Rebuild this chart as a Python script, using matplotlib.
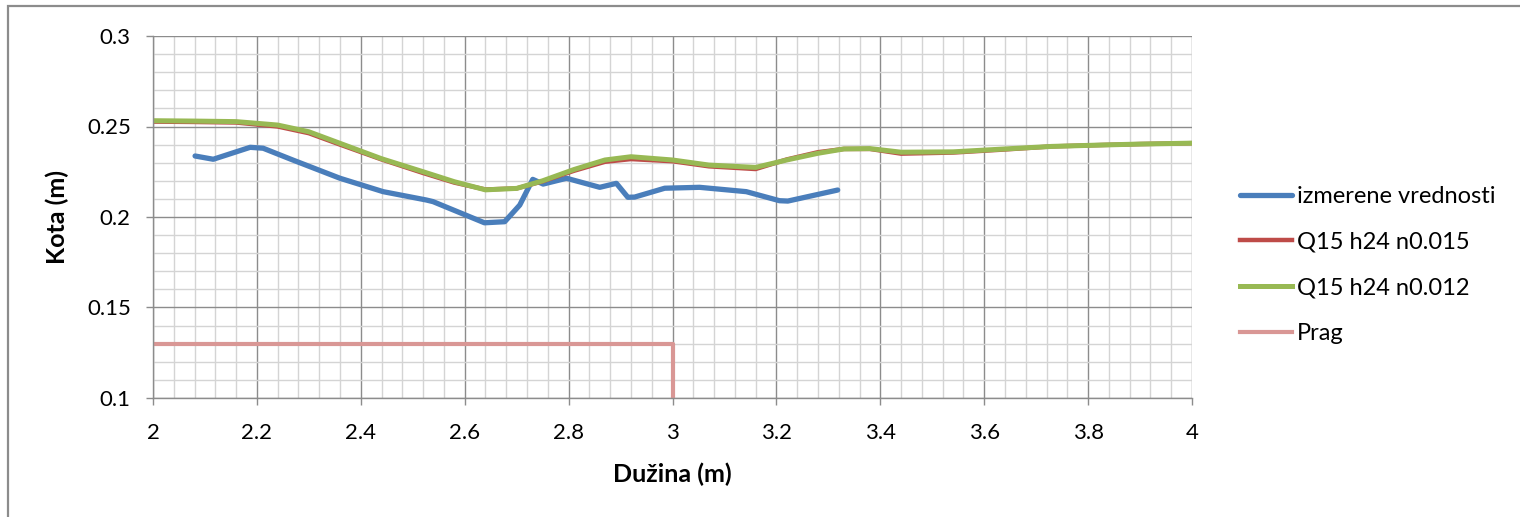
import matplotlib
matplotlib.use("Agg")
import matplotlib.pyplot as plt
from matplotlib.ticker import MultipleLocator, FuncFormatter
from matplotlib.patches import Rectangle

plt.rcParams['font.family'] = ['Lato', 'DejaVu Sans']

# izmerene vrednosti (measured)
x_mer = [2.081, 2.116, 2.187, 2.212, 2.269, 2.360, 2.443, 2.526, 2.539, 2.638, 2.677,
         2.706, 2.731, 2.751, 2.796, 2.860, 2.892, 2.914, 2.927, 2.985, 3.052, 3.142,
         3.206, 3.222, 3.318]
y_mer = [0.2337, 0.2319, 0.2385, 0.2380, 0.2315, 0.2214, 0.2140, 0.2094, 0.2085, 0.1968, 0.1974,
         0.2066, 0.2208, 0.2182, 0.2214, 0.2164, 0.2186, 0.2109, 0.2110, 0.2159, 0.2164, 0.2140,
         0.2090, 0.2088, 0.2149]

# model results
x_mod = [2.00, 2.08, 2.16, 2.24, 2.30, 2.36, 2.44, 2.52, 2.58, 2.64, 2.70, 2.75, 2.81, 2.87,
         2.92, 3.00, 3.07, 3.16, 3.22, 3.28, 3.33, 3.38, 3.44, 3.54, 3.64, 3.73, 3.83, 3.90, 4.00]
y_n015 = [0.2527, 0.2525, 0.2522, 0.2500, 0.2463, 0.2400, 0.2318, 0.2243, 0.2190, 0.2152, 0.2158,
          0.2197, 0.2255, 0.2305, 0.2320, 0.2308, 0.2280, 0.2265, 0.2318, 0.2358, 0.2376, 0.2376,
          0.2350, 0.2356, 0.2373, 0.2390, 0.2398, 0.2403, 0.2408]
y_n012 = [0.2532, 0.2530, 0.2527, 0.2508, 0.2471, 0.2407, 0.2322, 0.2250, 0.2195, 0.2150, 0.2158,
          0.2200, 0.2262, 0.2315, 0.2333, 0.2315, 0.2287, 0.2274, 0.2315, 0.2352, 0.2376, 0.2378,
          0.2358, 0.2360, 0.2376, 0.2390, 0.2398, 0.2403, 0.2408]

# prag (weir)
x_prag = [2.0, 3.0, 3.0]
y_prag = [0.13, 0.13, 0.10]

labels = ['izmerene vrednosti', 'Q15 h24 n0.015', 'Q15 h24 n0.012', 'Prag']

fig = plt.figure(figsize=(15.2, 5.17), dpi=100)
ax = fig.add_axes([153 / 1520, 1 - 398 / 517, (1192 - 153) / 1520, (398 - 36) / 517])

ax.plot(x_mer, y_mer, color='#4A7EBB', lw=3.8, label=labels[0], solid_capstyle='round')
ax.plot(x_mod, y_n015, color='#BE4B48', lw=3.2, label=labels[1])
ax.plot(x_mod, y_n012, color='#98B954', lw=3.6, label=labels[2])
ax.plot(x_prag, y_prag, color='#D99795', lw=3.0, label=labels[3])

ax.set_xlim(2, 4)
ax.set_ylim(0.1, 0.3)
ax.xaxis.set_major_locator(MultipleLocator(0.2))
ax.xaxis.set_minor_locator(MultipleLocator(0.04))
ax.yaxis.set_major_locator(MultipleLocator(0.05))
ax.yaxis.set_minor_locator(MultipleLocator(0.01))
fmt = FuncFormatter(lambda v, p: '%g' % round(v, 3))
ax.xaxis.set_major_formatter(fmt)
ax.yaxis.set_major_formatter(fmt)

ax.grid(which='major', color='#8C8C8C', lw=1.0)
ax.grid(which='minor', color='#D4D4D4', lw=1.0)
ax.set_axisbelow(True)
for s in ['top', 'right']:
    ax.spines[s].set_visible(False)
for s in ['left', 'bottom']:
    ax.spines[s].set_color('#8C8C8C')
    ax.spines[s].set_linewidth(1.0)

ax.tick_params(which='major', direction='out', length=5, width=1, color='#8C8C8C',
               labelsize=16)
ax.tick_params(axis='x', pad=13)
ax.tick_params(axis='y', pad=11)
ax.tick_params(which='minor', length=0)

ax.set_xlabel('Dužina (m)', fontsize=18, fontweight='bold', labelpad=14)
ax.set_ylabel('Kota (m)', fontsize=18, fontweight='bold', labelpad=13)

leg = fig.legend(loc='center left', bbox_to_anchor=(1240 / 1520, 1 - 265 / 517),
                 frameon=False, fontsize=17, handlelength=2.2, handletextpad=0.2,
                 labelspacing=1.05, borderpad=0, borderaxespad=0)

# chart area frame
fig.patches.append(Rectangle((8 / 1520, -0.05), 1.1, 1 - 6 / 517 + 0.05,
                             transform=fig.transFigure, fill=False,
                             edgecolor='#8C8C8C', lw=1.6, zorder=0))

fig.savefig('out.png', dpi=100)
